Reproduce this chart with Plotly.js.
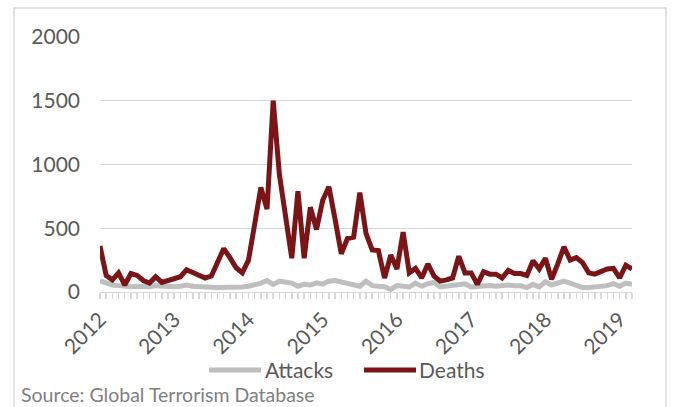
<!DOCTYPE html>
<html>
<head>
<meta charset="utf-8">
<script src="https://cdn.plot.ly/plotly-3.0.1.min.js"></script>
<style>
  html, body { margin: 0; padding: 0; background: #ffffff; }
  #chart { width: 674px; height: 407px; }
</style>
</head>
<body>
<div id="chart"></div>
<script>
// Monthly series, Jan 2012 – Mar 2019
const monthCount = 87;
const monthIndex = [];
for (let i = 0; i < monthCount; i++) monthIndex.push(i);

const yearTickIndex = [0, 12, 24, 36, 48, 60, 72, 84];
const yearTickLabels = ['2012', '2013', '2014', '2015', '2016', '2017', '2018', '2019'];

const seriesNames = ['Attacks', 'Deaths'];

const attacks = [
  88, 70, 55, 50, 45, 42, 45, 42, 42, 50, 45, 40,
  42, 45, 55, 45, 40, 40, 38, 35, 35, 38, 40, 40,
  45, 55, 70, 90, 60, 85, 80, 70, 45, 60, 55, 72,
  62, 85, 90, 78, 70, 55, 45, 85, 50, 45, 42, 20,
  50, 45, 40, 70, 45, 65, 75, 40, 45, 50, 55, 65,
  40, 45, 45, 50, 45, 50, 55, 50, 50, 35, 60, 40,
  80, 55, 65, 85, 70, 55, 35, 35, 40, 45, 50, 65,
  45, 70, 60
];

const deaths = [
  360, 130, 95, 150, 55, 145, 130, 90, 70, 120, 75, 90,
  110, 120, 175, 150, 125, 110, 125, 230, 340, 270, 190, 150,
  250, 530, 820, 650, 1500, 920, 600, 265, 790, 265, 665, 490,
  720, 825, 570, 300, 420, 430, 780, 460, 330, 325, 110, 290,
  180, 470, 150, 185, 110, 220, 125, 85, 95, 110, 280, 150,
  150, 60, 160, 140, 140, 110, 170, 145, 145, 130, 245, 180,
  265, 100, 220, 355, 250, 270, 230, 150, 140, 165, 180, 185,
  110, 210, 180
];

const fontFam = 'Lato, "Open Sans", sans-serif';
const textGray = '#595959';
const attackColor = '#BFBFBF';
const deathColor = '#7B1416';

const traces = [
  {
    x: monthIndex, y: attacks, name: seriesNames[0], type: 'scatter', mode: 'lines',
    line: { color: attackColor, width: 5 }
  },
  {
    x: monthIndex, y: deaths, name: seriesNames[1], type: 'scatter', mode: 'lines',
    line: { color: deathColor, width: 5 }
  }
];

// pixel -> paper helpers (plot area: x 100..632, y 37..292)
const px = v => (v - 100) / 532;
const py = v => (292 - v) / 255;

const legendY = 369;

const layout = {
  width: 674, height: 407,
  margin: { l: 100, r: 42, t: 37, b: 115 },
  paper_bgcolor: '#ffffff', plot_bgcolor: '#ffffff',
  font: { family: fontFam, color: textGray, size: 22 },
  showlegend: false,
  xaxis: {
    range: [0, monthCount - 1],
    tickmode: 'array', tickvals: yearTickIndex, ticktext: yearTickLabels,
    tickangle: -45,
    showgrid: false, zeroline: false, showline: false,
    ticks: 'outside', ticklen: 6, tickcolor: '#D9D9D9', tickwidth: 1.5,
    minor: { dtick: 1, tick0: 0, ticks: 'outside', ticklen: 6, tickcolor: '#D9D9D9', tickwidth: 1.5, showgrid: false },
    tickfont: { size: 21, color: textGray, family: fontFam },
    fixedrange: true
  },
  yaxis: {
    range: [0, 2000], dtick: 500, tick0: 0,
    showgrid: true, gridcolor: '#D9D9D9', gridwidth: 1,
    zeroline: true, zerolinecolor: '#D9D9D9', zerolinewidth: 1,
    showline: false, ticks: '',
    ticklabelstandoff: 19,
    tickfont: { size: 21, color: textGray, family: fontFam },
    fixedrange: true
  },
  shapes: [
    {
      type: 'rect', xref: 'paper', yref: 'paper',
      x0: px(14), x1: px(666), y0: py(412), y1: py(8),
      line: { color: '#D9D9D9', width: 1.5 }, fillcolor: 'rgba(0,0,0,0)', layer: 'below'
    },
    {
      type: 'line', xref: 'paper', yref: 'paper',
      x0: px(209), x1: px(261), y0: py(legendY + 1), y1: py(legendY + 1),
      line: { color: attackColor, width: 5 }
    },
    {
      type: 'line', xref: 'paper', yref: 'paper',
      x0: px(364), x1: px(416), y0: py(legendY + 1), y1: py(legendY + 1),
      line: { color: deathColor, width: 5 }
    }
  ],
  annotations: [
    {
      text: seriesNames[0], xref: 'paper', yref: 'paper',
      x: px(264), y: py(legendY), xanchor: 'left', yanchor: 'middle', showarrow: false,
      borderpad: 0,
      font: { size: 21, color: textGray, family: fontFam }
    },
    {
      text: seriesNames[1], xref: 'paper', yref: 'paper',
      x: px(418), y: py(legendY), xanchor: 'left', yanchor: 'middle', showarrow: false,
      borderpad: 0,
      font: { size: 21, color: textGray, family: fontFam }
    },
    {
      text: 'Source: Global Terrorism Database',
      xref: 'paper', yref: 'paper',
      x: px(20), y: py(406.5),
      xanchor: 'left', yanchor: 'bottom', showarrow: false,
      borderpad: 0,
      font: { size: 19.5, color: '#7F7F7F', family: fontFam }
    }
  ]
};

Plotly.newPlot('chart', traces, layout, { displayModeBar: false, staticPlot: true });
</script>
</body>
</html>
